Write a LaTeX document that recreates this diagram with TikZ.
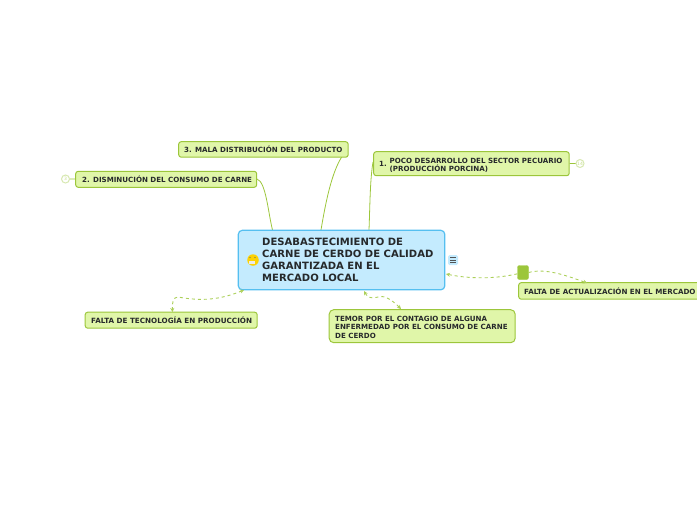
\documentclass[tikz,border=0pt]{standalone}
\usepackage{fontspec}
\setmainfont{DejaVu Sans}
\usetikzlibrary{arrows.meta,positioning,calc}
\definecolor{leaffill}{HTML}{E0F6A9}
\definecolor{leafline}{HTML}{9CC63B}
\definecolor{rootfill}{HTML}{C4EBFE}
\definecolor{rootline}{HTML}{55BFF0}
\definecolor{inktext}{HTML}{26292B}
\begin{document}
\begin{tikzpicture}[x=1pt,y=-1pt,
 leaf/.style={draw=leafline,fill=leaffill,line width=1pt,rounded corners=2.5pt,anchor=north west,inner sep=0pt},
 leaftxt/.style={anchor=west,inner sep=0pt,text=inktext,align=left,font=\fontsize{7.1}{8.6}\selectfont\bfseries},
 bignode/.style={leaf,rounded corners=4.5pt},
 root/.style={draw=rootline,fill=rootfill,line width=1.2pt,rounded corners=4pt,anchor=north west,inner sep=0pt},
 link/.style={draw=leafline,line width=0.8pt},
 rel/.style={draw=leafline!85,line width=0.9pt,dash pattern=on 3pt off 3pt},
 badge/.style={circle,draw=leafline!40,line width=1pt,fill=white,minimum size=8pt,inner sep=0pt,text=leafline!60,font=\fontsize{4.5}{5}\selectfont}]
\useasboundingbox (0,0) rectangle (697,520);
% connectors
\coordinate (r3) at (321,230);
\coordinate (r2) at (272.5,230);
\coordinate (r1) at (369,230);
\draw[link] (r3) .. controls (326,200) and (332,172) .. (342,156.5);
\draw[link] (r2) .. controls (268,212) and (266,182) .. (257,179);
\draw[link] (r1) .. controls (370,205) and (370,180) .. (373,162);
% nodes
\node[root,minimum width=206.5pt,minimum height=59.5pt] (main) at (237.7,229.7) {};
\node[anchor=north west,inner sep=0pt,text=inktext,align=left,font=\fontsize{10.05}{12}\selectfont\bfseries] (maintxt) at (262,238) {DESABASTECIMIENTO DE\\CARNE DE CERDO DE CALIDAD\\GARANTIZADA EN EL\\MERCADO LOCAL};
\node[leaf,minimum width=169.5pt,minimum height=15.5pt] (n3) at (178.2,141.2) {};
\node[leaftxt] (n3t) at (184,149.5) {3. MALA DISTRIBUCIÓN DEL PRODUCTO};
\node[leaf,minimum width=181pt,minimum height=16pt] (n2) at (75.2,170.8) {};
\node[leaftxt] (n2t) at (82,179.5) {2. DISMINUCIÓN DEL CONSUMO DE CARNE};
\node[leaf,minimum width=195.5pt,minimum height=24pt] (n1) at (373.2,151.2) {};
\node[leaftxt] (n1t) at (389.5,165.2) {POCO DESARROLLO DEL SECTOR PECUARIO\\(PRODUCCIÓN PORCINA)};
\node[leaftxt] (n1n) at (379,164) {1.};
\node[leaf,minimum width=186pt,minimum height=16.5pt] (n4) at (518.2,282.2) {};
\node[leaftxt,font=\fontsize{7.15}{8.6}\selectfont\bfseries] (n4t) at (524,291.5) {FALTA DE ACTUALIZACIÓN EN EL MERCADO};
\node[leaf,minimum width=172pt,minimum height=16pt] (n5) at (84.7,311.7) {};
\node[leaftxt,font=\fontsize{7.2}{8.6}\selectfont\bfseries] (n5t) at (91,320.5) {FALTA DE TECNOLOGÍA EN PRODUCCIÓN};
\node[bignode,minimum width=186pt,minimum height=33pt] (n6) at (328.7,309.2) {};
\node[leaftxt] (n6t) at (335,327.3) {TEMOR POR EL CONTAGIO DE ALGUNA\\ENFERMEDAD POR EL CONSUMO DE CARNE\\DE CERDO};
% relationship marker
\node[draw=leafline,fill=leafline,rounded corners=2pt,minimum width=11pt,minimum height=14pt,inner sep=0pt] (rm) at (523,272.5) {};
\coordinate (a4) at (446,274);
\coordinate (b4) at (587,283);
\coordinate (a5) at (244,290);
\coordinate (b5) at (172.5,312);
\coordinate (a6) at (364,291);
\coordinate (b6) at (401,309);
\draw[rel,-{Stealth[length=4pt,width=4pt]}] (rm) .. controls (495,279) and (470,279) .. (a4);
\draw[rel,-{Stealth[length=4pt,width=4pt]}] (rm.east) .. controls (545,268) and (565,275) .. (b4);
\draw[rel,{Stealth[length=4pt,width=4pt]}-{Stealth[length=4pt,width=4pt]}] (a5) .. controls (215,302) and (195,300) .. (178,297) .. controls (173,297) and (172,303) .. (b5);
\draw[rel,{Stealth[length=4pt,width=4pt]}-{Stealth[length=4pt,width=4pt]}] (a6) .. controls (370,302) and (378,295) .. (385,297) .. controls (392,300) and (396,304) .. (b6);
% badges
\node[badge] (c3) at (65.5,179) {3};
\draw[link] (c3) -- (n2);
\node[badge] (c14) at (580,163.5) {14};
\draw[link] (n1) -- (c14);
% note icon
\node[fill=rootfill,rounded corners=1.5pt,minimum size=10pt,inner sep=0pt] (nt) at (453,260) {};
\foreach \yy in {257.5,260,262.5}
  \draw[inktext!80,line width=0.6pt] (450,\yy) -- (456,\yy);
% emoji
\node[circle,fill=yellow!70!orange,minimum size=11.5pt,inner sep=0pt] (em) at (253,260) {};
\fill[white!85!gray] (249,260.5) rectangle (255,264);
\fill[inktext!70] (250,257.5) circle (0.7) (255,257.5) circle (0.7);
\end{tikzpicture}
\end{document}
